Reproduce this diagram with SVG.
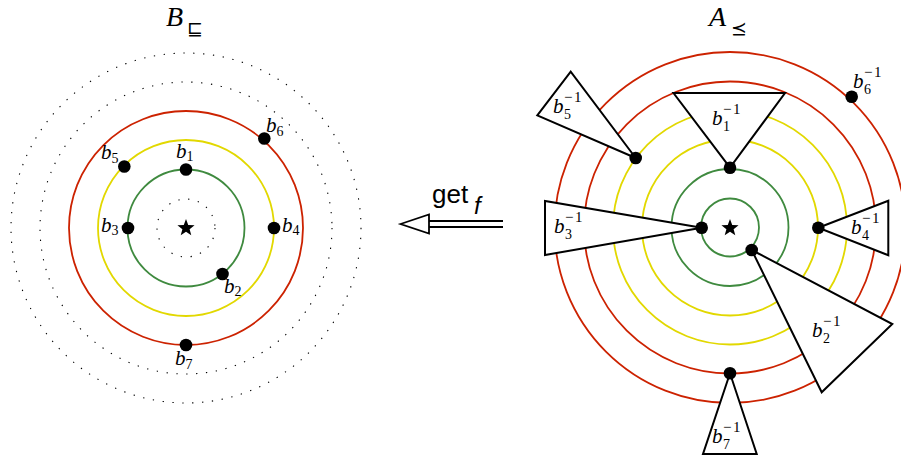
<svg xmlns="http://www.w3.org/2000/svg" width="901" height="458" viewBox="0 0 901 458">
<style>
.ring{fill:none;stroke-width:1.8}
.red{stroke:#cc2200}
.yel{stroke:#e2d800}
.grn{stroke:#3f8a3f}
.dot{fill:none;stroke:#000;stroke-width:1.1;stroke-dasharray:1.3 8.6}
.pt{fill:#000}
.tri{fill:#fff;stroke:#000;stroke-width:2;stroke-linejoin:miter}
.b{font-family:"Liberation Serif","DejaVu Serif",serif;font-style:italic;font-size:21px;fill:#000}
.s{font-style:normal;font-size:14px}
.sup{font-style:normal;font-size:15px;letter-spacing:1.5px}
.title{font-family:"Liberation Serif","DejaVu Serif",serif;font-style:italic;font-size:28px;fill:#000}
.rel{font-family:"DejaVu Sans","DejaVu Serif",sans-serif;font-style:normal;font-size:19px}
.lbl{font-family:"Liberation Sans",Arial,sans-serif;fill:#000}
</style>
<defs>
<polygon id="star" points="0,-9 2.23,-3.07 8.56,-2.78 3.61,1.17 5.29,7.28 0,3.8 -5.29,7.28 -3.61,1.17 -8.56,-2.78 -2.23,-3.07" fill="#000"/>
</defs>
<rect width="901" height="458" fill="#fff"/>

<!-- Left diagram -->
<g id="left-title"><text class="title" x="166" y="26">B</text><text class="title rel" x="187" y="35">⊑</text></g>
<g id="left-rings">
<circle class="dot" cx="186" cy="228" r="175"/>
<circle class="dot" cx="186" cy="228" r="146"/>
<circle class="ring red" cx="186" cy="228" r="117"/>
<circle class="ring yel" cx="186" cy="228" r="88"/>
<circle class="ring grn" cx="186" cy="228" r="58.5"/>
<circle class="dot" cx="186" cy="228" r="29"/>
<use href="#star" x="186" y="228"/>
</g>
<g id="lb1"><circle class="pt" cx="186" cy="169.5" r="6.3"/><text class="b" x="176" y="158">b<tspan class="s" dy="3">1</tspan></text></g>
<g id="lb2"><circle class="pt" cx="222.5" cy="274" r="6.3"/><text class="b" x="224" y="293">b<tspan class="s" dy="3">2</tspan></text></g>
<g id="lb3"><circle class="pt" cx="128" cy="228" r="6.3"/><text class="b" x="101" y="232">b<tspan class="s" dy="3">3</tspan></text></g>
<g id="lb4"><circle class="pt" cx="274" cy="228" r="6.3"/><text class="b" x="282" y="232">b<tspan class="s" dy="3">4</tspan></text></g>
<g id="lb5"><circle class="pt" cx="124.3" cy="166.5" r="6.3"/><text class="b" x="101" y="159">b<tspan class="s" dy="4">5</tspan></text></g>
<g id="lb6"><circle class="pt" cx="264.3" cy="138.5" r="6.3"/><text class="b" x="266" y="132">b<tspan class="s" dy="4">6</tspan></text></g>
<g id="lb7"><circle class="pt" cx="186" cy="345" r="6.3"/><text class="b" x="175" y="365">b<tspan class="s" dy="4">7</tspan></text></g>

<!-- Connector -->
<g id="connectors">
<line x1="429" y1="221" x2="503" y2="221" stroke="#000" stroke-width="1.8"/>
<line x1="429" y1="227" x2="503" y2="227" stroke="#000" stroke-width="1.8"/>
<polygon points="400.5,224 429,214.5 429,233.5" fill="#fff" stroke="#000" stroke-width="1.8"/>
<text class="lbl" x="432" y="203" font-size="26">get</text>
<text class="lbl" x="474" y="214" font-size="24" font-style="italic">f</text>
</g>

<!-- Right diagram -->
<g id="right-title"><text class="title" x="709" y="26">A</text><text class="title rel" x="731" y="35">⪯</text></g>
<g id="right-rings">
<circle class="ring red" cx="730" cy="227.5" r="175.5"/>
<circle class="ring red" cx="730" cy="227.5" r="146"/>
<circle class="ring yel" cx="730" cy="227.5" r="117"/>
<circle class="ring yel" cx="730" cy="227.5" r="88"/>
<circle class="ring grn" cx="730" cy="227.5" r="58.5"/>
<circle class="ring grn" cx="730" cy="227.5" r="29"/>
<use href="#star" x="730" y="228"/>
</g>
<g id="rb1"><polygon class="tri" points="730,167.7 673.5,93 785,93"/><circle class="pt" cx="730" cy="167.7" r="6.3"/>
<text class="b" x="712" y="125">b<tspan class="sup" x="723" dy="-11">−1</tspan><tspan class="s" x="723" dy="17">1</tspan></text></g>
<g id="rb5"><polygon class="tri" points="635.7,158 570.7,71.7 537.3,115.3"/><circle class="pt" cx="635.7" cy="158" r="6.3"/>
<text class="b" x="553" y="113">b<tspan class="sup" x="564" dy="-11">−1</tspan><tspan class="s" x="564" dy="17">5</tspan></text></g>
<g id="rb3"><polygon class="tri" points="701.7,227.7 545,201 545,255"/><circle class="pt" cx="701.7" cy="227.7" r="6.3"/>
<text class="b" x="554" y="233">b<tspan class="sup" x="565" dy="-11">−1</tspan><tspan class="s" x="565" dy="17">3</tspan></text></g>
<g id="rb4"><polygon class="tri" points="818.3,227.7 888.3,200.7 888.3,255.3"/><circle class="pt" cx="818.3" cy="227.7" r="6.3"/>
<text class="b" x="851" y="234">b<tspan class="sup" x="862" dy="-11">−1</tspan><tspan class="s" x="862" dy="17">4</tspan></text></g>
<g id="rb2"><polygon class="tri" points="751.7,250 892.3,324 821.7,392.3"/><circle class="pt" cx="751.7" cy="250" r="6.3"/>
<text class="b" x="812" y="337">b<tspan class="sup" x="823" dy="-11">−1</tspan><tspan class="s" x="823" dy="17">2</tspan></text></g>
<g id="rb7"><polygon class="tri" points="730,373.3 703,454 756.7,454"/><circle class="pt" cx="730" cy="373.3" r="6.3"/>
<text class="b" x="712" y="443">b<tspan class="sup" x="723" dy="-11">−1</tspan><tspan class="s" x="723" dy="17">7</tspan></text></g>
<g id="rb6"><circle class="pt" cx="851.7" cy="96.7" r="6.3"/>
<text class="b" x="853" y="88">b<tspan class="sup" x="864" dy="-11">−1</tspan><tspan class="s" x="864" dy="17">6</tspan></text></g>
</svg>
